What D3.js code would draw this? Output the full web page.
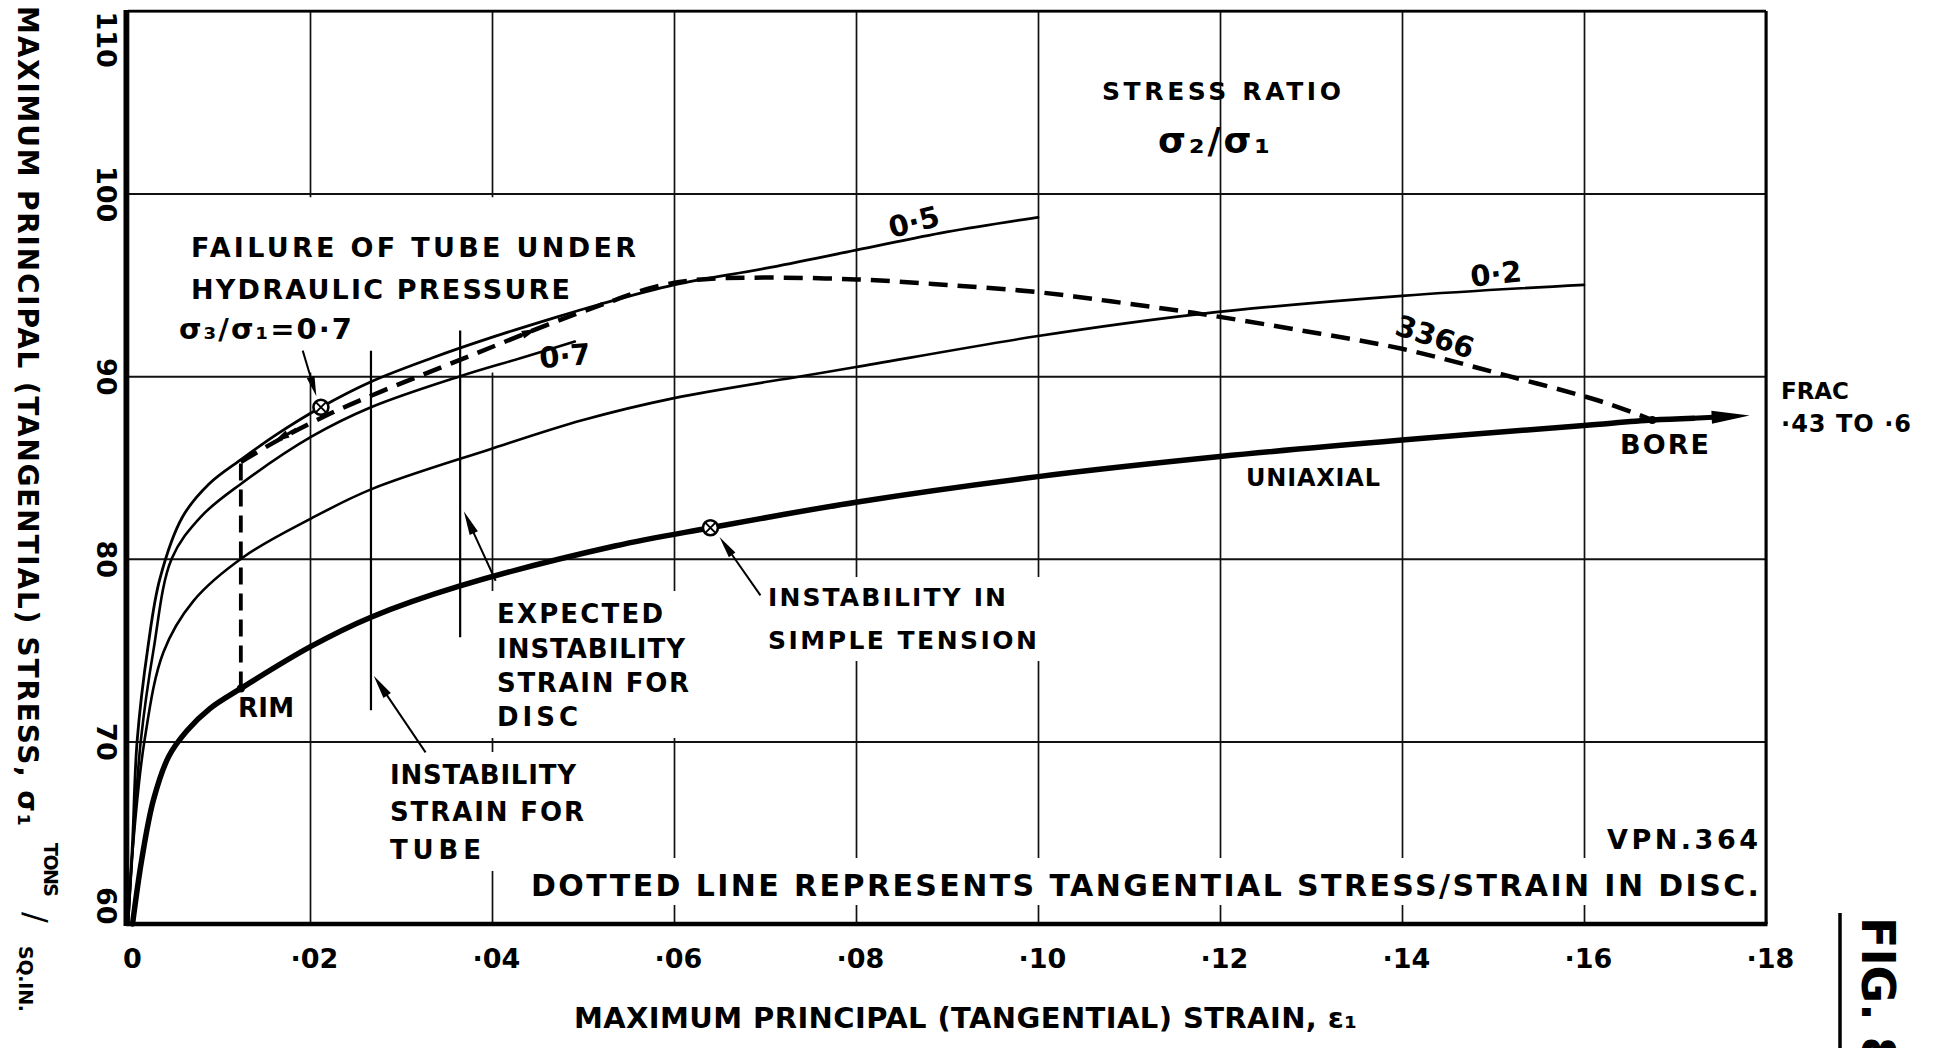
<!DOCTYPE html>
<html><head><meta charset="utf-8">
<script src="https://cdn.jsdelivr.net/npm/d3@7"></script>
<style>
html,body{margin:0;padding:0;background:#fff;overflow:hidden}
svg{display:block;background:#fff}
text{font-family:"DejaVu Sans",sans-serif;font-weight:bold;fill:#000}
</style></head><body>
<svg id="c" width="1935" height="1048"></svg>
<script>
// ---------- data ----------
const xTicks = [0,0.02,0.04,0.06,0.08,0.10,0.12,0.14,0.16,0.18];
const xTickLabels = ["0","·02","·04","·06","·08","·10","·12","·14","·16","·18"];
const yTicks = [60,70,80,90,100,110];
const yTickLabels = ["60","70","80","90","100","110"];

const ratio05Strain = [0,0.0005,0.0010,0.0022,0.0035,0.0060,0.0089,0.0126,0.0163,0.0212,0.0267,0.0334,0.0398,0.0462,0.0516,0.0600,0.0700,0.0800,0.0900,0.1000];
const ratio05Stress = [60,64.5,70,75.2,78.9,82.3,84.1,85.5,86.8,88.3,89.7,91.0,92.1,93.1,93.9,95.0,95.9,96.9,97.9,98.7];

const ratio07Strain = [0,0.0005,0.0014,0.0028,0.0048,0.0080,0.0124,0.0202,0.0267,0.0365,0.0432,0.0491];
const ratio07Stress = [60,64,70,75,80,82.3,84.1,86.7,88.3,90.0,91.0,91.9];

const ratio02Strain = [0,0.0005,0.0018,0.0039,0.0072,0.0127,0.0201,0.0267,0.0398,0.0500,0.0600,0.0740,0.0800,0.1000,0.1177,0.1400,0.1600];
const ratio02Stress = [60,64,70,74.9,77.7,80.1,82.2,83.8,86.0,87.6,88.8,90.0,90.5,92.2,93.4,94.4,95.0];

const uniaxialStrain = [0.0005,0.0015,0.0028,0.0045,0.0065,0.0090,0.0124,0.0201,0.0267,0.0364,0.0535,0.0640,0.0800,0.1000,0.1200,0.1400,0.1600,0.1675,0.1720];
const uniaxialStress = [60,63.5,66.8,69.2,70.6,71.8,72.9,75.2,76.8,78.5,80.7,81.7,83.1,84.5,85.6,86.5,87.3,87.6,87.7];
const uniaxialArrowTip = [0.1782, 87.85];

const discStrain = [0.0124,0.0165,0.0220,0.0280,0.0340,0.0400,0.0460,0.0520,0.0580,0.0630,0.0700,0.0800,0.0900,0.1000,0.1080,0.1180,0.1290,0.1400,0.1510,0.1620,0.1675];
const discStress = [85.3,86.5,87.9,89.2,90.4,91.6,92.8,93.9,94.9,95.3,95.4,95.3,95.0,94.6,94.1,93.4,92.5,91.5,90.1,88.6,87.6];
const rimPoint = [0.0124, 72.9];
const borePoint = [0.1675, 87.6];

const tubeFailurePoint = [0.0212, 88.3];
const tensionInstabilityPoint = [0.0640, 81.7];
const tubeInstabilityStrain = 0.0267, tubeInstabilityRange = [71.7, 91.4];
const discInstabilityStrain = 0.0365, discInstabilityRange = [75.7, 92.5];

// ---------- scales ----------
const W=1935,H=1048;
const x = d3.scaleLinear().domain([0,0.18]).range([128,1766]);
const y = d3.scaleLinear().domain([60,110]).range([924,11]);
const svg = d3.select("#c");
const gGrid = svg.append("g"), gMask = svg.append("g"), gFrame = svg.append("g"),
      gCurves = svg.append("g"), gMarks = svg.append("g"), gText = svg.append("g");

// ---------- grid via axes ----------
const xAxis = d3.axisBottom(x).tickValues(xTicks).tickSize(-(y(60)-y(110))).tickPadding(0)
  .tickFormat((d,i)=>xTickLabels[i]);
const gx = gGrid.append("g").attr("transform",`translate(0,${y(60)})`).call(xAxis);
gx.select(".domain").remove();
gx.selectAll("line").attr("stroke","#111").attr("stroke-width",1.7);
gx.selectAll("text").attr("y",44).attr("dy",null).attr("x",4)
  .style("font-size","27px").style("font-family","'DejaVu Sans',sans-serif").style("font-weight","bold").attr("fill","#000");

const yAxis = d3.axisLeft(y).tickValues(yTicks).tickSize(-(x(0.18)-x(0))).tickPadding(0)
  .tickFormat((d,i)=>yTickLabels[i]);
const gy = gGrid.append("g").attr("transform",`translate(${x(0)},0)`).call(yAxis);
gy.select(".domain").remove();
gy.selectAll("line").attr("stroke","#111").attr("stroke-width",2);
gy.selectAll("text").attr("x",null).attr("dy",null)
  .attr("transform",`translate(${106-x(0)},0) rotate(90)`)
  .attr("dominant-baseline","central")
  .attr("text-anchor",d=> d===110 ? "start" : (d===60 ? "end" : "middle"))
  .style("font-size","27px").style("font-family","'DejaVu Sans',sans-serif").style("font-weight","bold").attr("fill","#000");

// ---------- text helpers ----------
function label(str, px, py, fs, len, opt={}) {
  const t = gText.append("text").attr("x",px).attr("y",py).style("font-size",fs+"px").text(str);
  if (len) t.attr("textLength",len).attr("lengthAdjust", opt.adj||"spacing");
  if (opt.anchor) t.attr("text-anchor",opt.anchor);
  return t;
}
function rlabel(str, cx, cy, fs, ang) {
  return gText.append("text").attr("transform",`translate(${cx},${cy}) rotate(${ang})`)
    .attr("text-anchor","middle").attr("dominant-baseline","central").style("font-size",fs+"px").text(str);
}
function mask(nodes, pad) {
  let x0=1e9,y0=1e9,x1=-1e9,y1=-1e9;
  nodes.forEach(n=>{const b=n.node().getBBox(); x0=Math.min(x0,b.x); y0=Math.min(y0,b.y); x1=Math.max(x1,b.x+b.width); y1=Math.max(y1,b.y+b.height);});
  gMask.append("rect").attr("x",x0-pad[3]).attr("y",y0-pad[0]).attr("width",x1-x0+pad[1]+pad[3]).attr("height",y1-y0+pad[0]+pad[2]).attr("fill","#fff");
}

// ---------- labels ----------
label("STRESS RATIO",1102,100,25,239);
label("σ₂/σ₁",1158,153,36,112);

label("FAILURE OF TUBE UNDER",191,257,27,445);
label("HYDRAULIC PRESSURE",191,299,27,379);
label("σ₃/σ₁=0·7",179,339,29,173);
gMask.append("rect").attr("x",x(0.004)).attr("y",y(99.8)).attr("width",x(0.057)-x(0.004)).attr("height",y(90.2)-y(99.8)).attr("fill","#fff");

rlabel("0·5",914,222,29,-14);
rlabel("0·2",1496,274,29,-6);
rlabel("3366",1435,337,29,18);
rlabel("0·7",565,356,29,-5);

label("FRAC",1781,399,23,68);
label("·43 TO ·6",1781,432,24,130);
label("BORE",1620,454,27,89);
label("UNIAXIAL",1246,486,24,134);

const s1=label("INSTABILITY IN",768,606,25,238);
const s2=label("SIMPLE TENSION",768,649,25,269);
mask([s1,s2],[6,4,6,6]);

const e1=label("EXPECTED",497,623,26,166);
const e2=label("INSTABILITY",497,658,26,188);
const e3=label("STRAIN FOR",497,692,26,192);
const e4=label("DISC",497,726,26,81);
mask([e1,e2,e3,e4],[8,6,6,9]);

label("RIM",238,717,26,56);

const t1=label("INSTABILITY",390,784,26,186);
const t2=label("STRAIN FOR",390,821,26,194);
const t3=label("TUBE",390,859,26,91);
mask([t1,t2,t3],[8,8,6,8]);

label("VPN.364",1607,849,27,151);
const d1=label("DOTTED LINE REPRESENTS TANGENTIAL STRESS/STRAIN IN DISC.",531,896,30,1228);
mask([d1],[10,0,2,8]);

// axis titles
label("MAXIMUM PRINCIPAL (TANGENTIAL) STRAIN, ε₁",574,1028,29,783);
gText.append("text").attr("transform","translate(27,6) rotate(90)").attr("dominant-baseline","central")
  .style("font-size","28px").attr("textLength",820).attr("lengthAdjust","spacing")
  .text("MAXIMUM PRINCIPAL (TANGENTIAL) STRESS, σ₁");
gText.append("text").attr("transform","translate(51,843) rotate(90)").attr("dominant-baseline","central")
  .style("font-size","19px").attr("textLength",54).attr("lengthAdjust","spacing").text("TONS");
gText.append("text").attr("transform","translate(36,912) rotate(90)").attr("dominant-baseline","central")
  .style("font-size","32px").style("font-weight","normal").text("/");
gText.append("text").attr("transform","translate(26,946) rotate(90)").attr("dominant-baseline","central")
  .style("font-size","19px").attr("textLength",66).attr("lengthAdjust","spacing").text("SQ.IN.");

// FIG. 8
gText.append("text").attr("transform","translate(1878,917) rotate(90)").attr("dominant-baseline","central")
  .style("font-size","46px").text("FIG. 8");
gText.append("line").attr("x1",1840).attr("x2",1840).attr("y1",913).attr("y2",H).attr("stroke","#000").attr("stroke-width",3.5);

// ---------- frame ----------
gFrame.append("line").attr("x1",x(0)).attr("x2",x(0.18)).attr("y1",y(110)).attr("y2",y(110)).attr("stroke","#000").attr("stroke-width",2.6);
gFrame.append("line").attr("x1",x(0.18)).attr("x2",x(0.18)).attr("y1",y(110)).attr("y2",y(60)).attr("stroke","#000").attr("stroke-width",3);
gFrame.append("line").attr("x1",x(0)-2).attr("x2",x(0.18)+1.5).attr("y1",y(60)).attr("y2",y(60)).attr("stroke","#000").attr("stroke-width",4.5);
gFrame.append("line").attr("x1",x(0)-2).attr("x2",x(0)-2).attr("y1",y(110)-1).attr("y2",y(60)+2).attr("stroke","#000").attr("stroke-width",5);

// ---------- curves ----------
const line = d3.line().x(d=>x(d[0])).y(d=>y(d[1])).curve(d3.curveCatmullRom.alpha(0.5));
const zip = (a,b)=>a.map((v,i)=>[v,b[i]]);
function curve(pts, sw, dash) {
  const p = gCurves.append("path").attr("d",line(pts)).attr("fill","none").attr("stroke","#000")
    .attr("stroke-width",sw).attr("stroke-linecap","round").attr("stroke-linejoin","round");
  if (dash) p.attr("stroke-dasharray",dash).attr("stroke-linecap","butt");
  return p;
}
curve(zip(ratio05Strain,ratio05Stress),2.8);
curve(zip(ratio07Strain,ratio07Stress),2.6);
curve(zip(ratio02Strain,ratio02Stress),2.6);
curve(zip(uniaxialStrain,uniaxialStress),5.5);

// disc (dashed)
gCurves.append("line").attr("x1",x(rimPoint[0])).attr("x2",x(rimPoint[0])).attr("y1",y(rimPoint[1])).attr("y2",y(discStress[0]))
  .attr("stroke","#000").attr("stroke-width",3.8).attr("stroke-dasharray","17 9");
curve(zip(discStrain,discStress),4.5,"19 10");

// instability lines
[[tubeInstabilityStrain,tubeInstabilityRange],[discInstabilityStrain,discInstabilityRange]].forEach(([s,r])=>{
  gCurves.append("line").attr("x1",x(s)).attr("x2",x(s)).attr("y1",y(r[0])).attr("y2",y(r[1])).attr("stroke","#000").attr("stroke-width",2.2);
});

// ---------- arrows ----------
function arrow(p0,p1,len,wid,sw) {
  const X0=x(p0[0]),Y0=y(p0[1]),X1=x(p1[0]),Y1=y(p1[1]);
  const a=Math.atan2(Y1-Y0,X1-X0), c=Math.cos(a), s=Math.sin(a);
  const bx=X1-len*c, by=Y1-len*s;
  gMarks.append("line").attr("x1",X0).attr("y1",Y0).attr("x2",bx+2*c).attr("y2",by+2*s).attr("stroke","#000").attr("stroke-width",sw);
  gMarks.append("path").attr("d",`M${X1},${Y1}L${bx-wid/2*s},${by+wid/2*c}L${bx+wid/2*s},${by-wid/2*c}Z`).attr("fill","#000");
}
arrow([0.0192,91.4],[0.0207,88.9],20,8,2);
arrow([0.0404,78.8],[0.0369,82.6],24,9,2);
arrow([0.0327,69.4],[0.0270,73.6],24,9,2);
arrow([0.0695,78.0],[0.0650,81.2],22,8,2);
arrow([uniaxialStrain[uniaxialStrain.length-1],uniaxialStress[uniaxialStress.length-1]],uniaxialArrowTip,38,13,5);
// small direction arrowheads on disc line
arrow([0.0185,87.1],[0.0160,86.4],16,8,3);
arrow([0.0420,92.0],[0.0450,92.6],16,8,3);

// ---------- markers ----------
function otimes(p){
  const cx=x(p[0]),cy=y(p[1]),r=7.5;
  gMarks.append("circle").attr("cx",cx).attr("cy",cy).attr("r",r).attr("fill","#fff").attr("stroke","#000").attr("stroke-width",2.6);
  const k=r*0.68;
  gMarks.append("path").attr("d",`M${cx-k},${cy-k}L${cx+k},${cy+k}M${cx+k},${cy-k}L${cx-k},${cy+k}`).attr("stroke","#000").attr("stroke-width",2);
}
otimes(tubeFailurePoint);
otimes(tensionInstabilityPoint);
[rimPoint,borePoint].forEach(p=>gMarks.append("circle").attr("cx",x(p[0])).attr("cy",y(p[1])).attr("r",4).attr("fill","#000"));
</script>
</body></html>
